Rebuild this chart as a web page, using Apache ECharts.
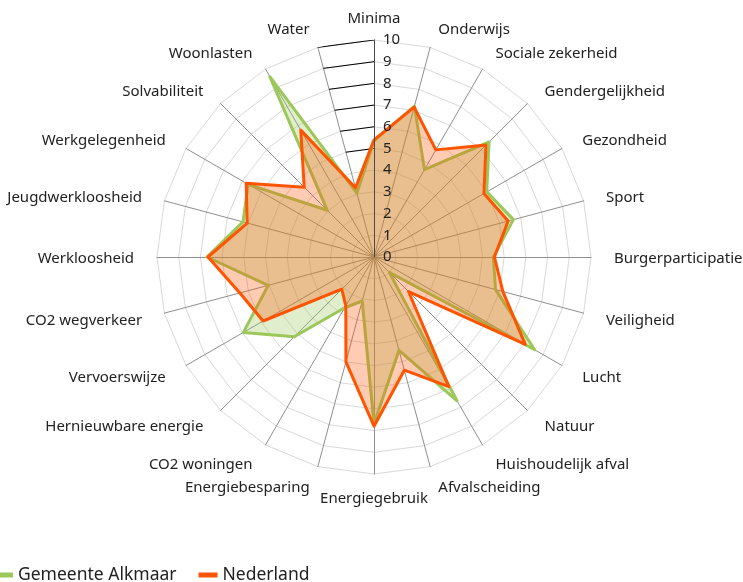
<!DOCTYPE html>
<html>
<head>
<meta charset="utf-8">
<script src="https://cdn.jsdelivr.net/npm/echarts@6/dist/echarts.min.js"></script>
<style>
html,body{margin:0;padding:0;background:#fff;}
#chart{width:743px;height:582px;}
</style>
</head>
<body>
<div id="chart"></div>
<script>
// Categories in clockwise order, starting at the top
const categories = ['Minima','Onderwijs','Sociale zekerheid','Gendergelijkheid','Gezondheid','Sport','Burgerparticipatie','Veiligheid','Lucht','Natuur','Huishoudelijk afval','Afvalscheiding','Energiegebruik','Energiebesparing','CO2 woningen','Hernieuwbare energie','Vervoerswijze','CO2 wegverkeer','Werkloosheid','Jeugdwerkloosheid','Werkgelegenheid','Solvabiliteit','Woonlasten','Water'];
const alkmaar   = [5.35, 7.2, 4.65, 7.5, 6.0, 6.65, 5.5, 5.8, 8.55, 1.0, 7.65, 4.45, 7.7, 2.1, 2.7, 5.2, 6.95, 5.05, 7.7, 6.25, 6.7, 3.05, 9.6, 3.05];
const nederland = [5.4, 7.15, 5.7, 7.3, 5.85, 6.4, 5.55, 6.15, 8.05, 2.25, 6.9, 5.4, 7.8, 5.0, 2.6, 2.1, 5.9, 6.4, 7.65, 6.05, 6.8, 4.55, 6.75, 3.3];
const seriesNames = ['Gemeente Alkmaar','Nederland'];
const tickValues = [0,1,2,3,4,5,6,7,8,9,10];
const darkSegmentLevels = [5,6,7,8,9,10];

const GREEN = '#9cc85a';
const ORANGE = '#ff5400';
const CX = 374, CY = 257, R = 217;

// ECharts radar places indicators counter-clockwise; reorder so they appear clockwise
const order = [0];
for (let i = categories.length - 1; i >= 1; i--) order.push(i);
const indicator = order.map(i => ({ name: categories[i], min: 0, max: 10 }));
const reorder = arr => order.map(i => arr[i]);
const verticalNames = [categories[0], categories[categories.length / 2]];

const waterAngle = 360 - 360 / categories.length; // angle of the axis left of the top axis

const segSeries = darkSegmentLevels.map(k => ({
  type: 'line',
  coordinateSystem: 'polar',
  data: [[k, 0], [k, waterAngle]],
  symbol: 'none',
  silent: true,
  lineStyle: { color: '#000', width: 1 },
  z: 1
}));

const chart = echarts.init(document.getElementById('chart'));
chart.setOption({
  animation: false,
  backgroundColor: '#fff',
  textStyle: { fontFamily: 'Noto Sans' },
  legend: {
    data: seriesNames,
    left: -11,
    top: 561,
    icon: 'rect',
    itemWidth: 19,
    itemHeight: 5,
    itemGap: 22,
    textStyle: { fontSize: 17.5, color: '#222', fontFamily: 'Noto Sans' }
  },
  radar: {
    center: [CX, CY],
    radius: R,
    startAngle: 90,
    shape: 'polygon',
    splitNumber: 10,
    indicator: indicator,
    nameGap: 20,
    axisName: {
      color: '#222', fontSize: 15, fontFamily: 'Noto Sans', padding: [4, 3, 0, 3],
      formatter: name => verticalNames.indexOf(name) >= 0 ? '{v|' + name + '}' : name,
      rich: { v: { lineHeight: 2, fontSize: 15, color: '#222', fontFamily: 'Noto Sans' } }
    },
    splitArea: { show: false },
    splitLine: { lineStyle: { color: '#d9d9d9', width: 1 } },
    axisLine: { lineStyle: { color: '#8f8f8f', width: 1 } },
    axisTick: { show: false },
    axisLabel: { show: false }
  },
  polar: { center: [CX, CY], radius: R },
  angleAxis: { type: 'value', min: 0, max: 360, startAngle: 90, clockwise: true, show: false },
  radiusAxis: {
    type: 'value', min: 0, max: 10, interval: 1,
    axisLine: { show: true, lineStyle: { color: '#4a4a4a', width: 1 } },
    axisTick: { show: false },
    splitLine: { show: false },
    axisLabel: { show: true, align: 'left', fontSize: 15, color: '#222', margin: -9, fontFamily: 'Noto Sans',
      formatter: v => tickValues.indexOf(v) >= 0 ? String(v) : '' },
    z: 3
  },
  series: [
    ...segSeries,
    {
      type: 'radar',
      name: seriesNames[0],
      symbol: 'none',
      z: 2,
      lineStyle: { color: GREEN, width: 3 },
      itemStyle: { color: GREEN },
      areaStyle: { color: GREEN, opacity: 0.3 },
      data: [{ name: seriesNames[0], value: reorder(alkmaar) }]
    },
    {
      type: 'radar',
      name: seriesNames[1],
      symbol: 'none',
      z: 2,
      lineStyle: { color: ORANGE, width: 3 },
      itemStyle: { color: ORANGE },
      areaStyle: { color: ORANGE, opacity: 0.3 },
      data: [{ name: seriesNames[1], value: reorder(nederland) }]
    }
  ]
});
</script>
</body>
</html>
